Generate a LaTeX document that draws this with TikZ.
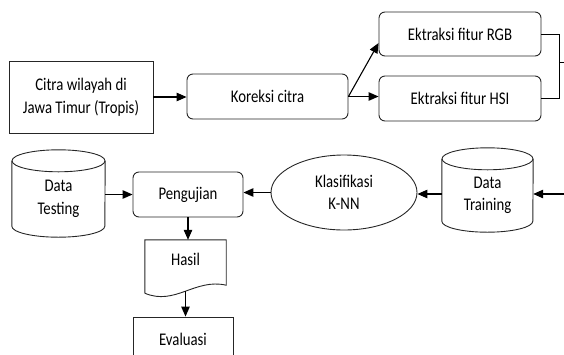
\documentclass[tikz,border=0pt]{standalone}
\usepackage{fontspec}
\setmainfont{Carlito}[FakeStretch=0.83]
\usetikzlibrary{arrows.meta,shapes.geometric}
\newcommand\drawcyl[2]{%
  \draw[cylline] (#1.north west) -- ([yshift=11pt]#1.south west)
    arc[start angle=180,end angle=360,x radius=#2,y radius=11pt] -- (#1.north east);
  \draw[cylline] (#1.north) ellipse[x radius=#2,y radius=11pt];}
\begin{document}
\begin{tikzpicture}[x=1pt,y=-1pt,
  font=\fontsize{17.8}{22.5}\selectfont,
  basebox/.style={draw=black!85,line width=0.9pt,inner sep=0pt,align=center},
  rbox/.style={basebox,rounded corners=6pt},
  ghost/.style={inner sep=0pt,align=center},
  cylline/.style={draw=black!85,line width=0.9pt},
  arr/.style={line width=1.1pt,-{Triangle[length=10pt,width=8.5pt]}},
  conn/.style={line width=1pt}]
\clip (0,0) rectangle (564,354);
% top row
\node[basebox,minimum width=144pt,minimum height=72pt] (citra) at (81,97) {Citra wilayah di\\Jawa Timur (Tropis)};
\node[rbox,minimum width=161pt,minimum height=45pt] (koreksi) at (267.5,96.5) {Koreksi citra};
\node[rbox,minimum width=162pt,minimum height=44pt] (rgb) at (460,34) {Ektraksi fitur RGB};
\node[rbox,minimum width=162pt,minimum height=45pt] (hsi) at (460,98.5) {Ektraksi fitur HSI};
\coordinate (rgbin) at ([yshift=-9pt]rgb.west);
\coordinate (join) at (559,62);
\coordinate (outR) at (564,62);
\draw[arr] (citra.east) -- (citra.east -| koreksi.west);
\draw[arr] (koreksi.east) -- (koreksi.east -| hsi.west);
\draw[arr] (koreksi.east) -- (rgbin);
\draw[conn] (rgb.east) -| (join) |- (hsi.east);
\draw[conn] (join) -- (outR);
% second row
\node[ghost,minimum width=93pt,minimum height=76pt] (testing) at (58.5,199) {Data\\Testing};
\drawcyl{testing}{46.5pt}
\node[ghost,minimum width=91pt,minimum height=73pt] (training) at (487.5,195.5) {Data\\Training};
\drawcyl{training}{45.5pt}
\node[rbox,minimum width=110pt,minimum height=45pt] (pengujian) at (188,194.5) {Pengujian};
\node[basebox,ellipse,minimum width=146pt,minimum height=75pt] (knn) at (344,192.5) {Klasifikasi\\K-NN};
\coordinate (inR) at (564,194);
\draw[arr] (inR) -- (inR -| training.east);
\draw[arr] (training.west |- inR) -- (inR -| knn.east);
\draw[arr] (knn.west) -- (knn.west -| pengujian.east);
\draw[arr] (testing.east |- pengujian.west) -- (pengujian.west);
% bottom column
\node[ghost,minimum width=81pt,minimum height=53pt] (hasil) at (185.5,266.5) {};
\node[ghost] (hasiltxt) at (185.5,259) {Hasil};
\draw[cylline] (hasil.south west) -- (hasil.north west) -- (hasil.north east) -- ([yshift=8pt]hasil.south east)
  .. controls (195,278) and (175,306) .. (hasil.south west);
\node[basebox,minimum width=100pt,minimum height=44pt] (evaluasi) at (183,339) {Evaluasi};
\draw[arr] (pengujian.south) -- (pengujian.south |- hasil.north);
\draw[arr] ([yshift=2pt]hasil.south) -- (hasil.south |- evaluasi.north);
\end{tikzpicture}
\end{document}
